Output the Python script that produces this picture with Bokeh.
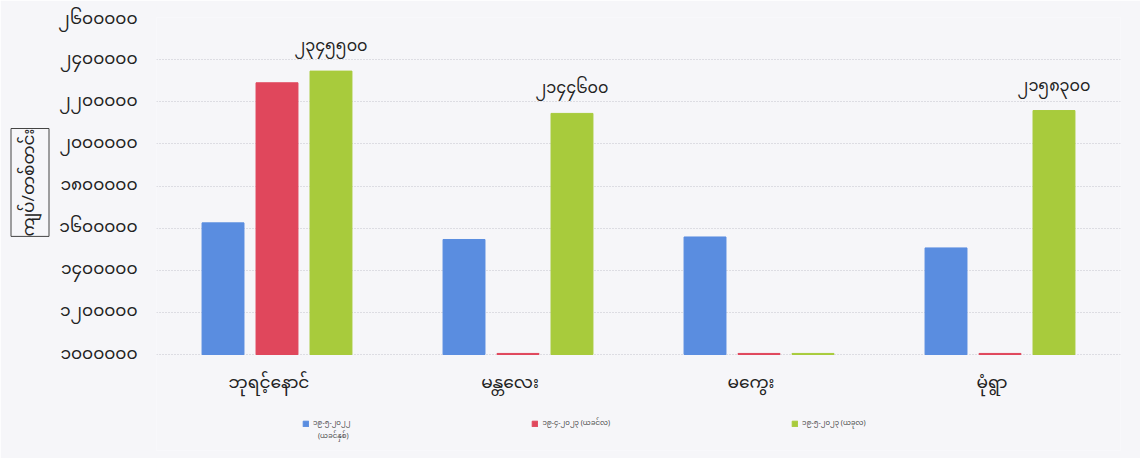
from bokeh.plotting import figure
from bokeh.models import (FactorRange, ColumnDataSource, FixedTicker, Legend, LegendItem,
                          LabelSet, Title)
from bokeh.transform import dodge
from bokeh.core.properties import value
from bokeh.embed import file_html
from bokeh.resources import INLINE

# ---- data ----
categories = ["ဘုရင့်နောင်", "မန္တလေး", "မကွေး", "မုံရွာ"]
series_names = ["၁၉-၅-၂၀၂၂", "၁၉-၄-၂၀၂၃ (ယခင်လ)", "၁၉-၅-၂၀၂၃ (ယခုလ)"]
series1_note = ["(ယခင်နှစ်)"]
prev_year = [1625000, 1546000, 1558000, 1506000]
prev_month = [2290000, 1005000, 1005000, 1005000]
this_month = [2345500, 2144600, 1005000, 2158300]
green_labels = ["၂၃၄၅၅၀၀", "၂၁၄၄၆၀၀", "", "၂၁၅၈၃၀၀"]
y_ticks = [1000000, 1200000, 1400000, 1600000, 1800000, 2000000, 2200000, 2400000, 2600000]
y_tick_labels = ["၁၀၀၀၀၀၀", "၁၂၀၀၀၀၀", "၁၄၀၀၀၀၀", "၁၆၀၀၀၀၀", "၁၈၀၀၀၀၀",
                 "၂၀၀၀၀၀၀", "၂၂၀၀၀၀၀", "၂၄၀၀၀၀၀", "၂၆၀၀၀၀၀"]
y_title = "ကျပ်/တစ်တင်း"
y_min, y_max = 1000000, 2600000

colors = ["#5a8de0", "#e0475c", "#a8cb3c"]
FONT = "Noto Sans Myanmar, Padauk, Myanmar Text, Noto Sans"
BG = "#f6f6f9"

# layout: frame from y=17 to y=450; value axis occupies 17..354 px
top_px, base_px, bottom_px = 17, 354, 450
range_start = y_min - (bottom_px - base_px) * (y_max - y_min) / (base_px - top_px)

source = ColumnDataSource(dict(cat=categories, a=prev_year, b=prev_month, c=this_month,
                               lab=green_labels))

p = figure(x_range=FactorRange(*categories), y_range=(range_start, y_max),
           width=1140, height=458, output_backend="svg", toolbar_location=None,
           min_border_left=156, min_border_right=20, min_border_top=top_px,
           min_border_bottom=458 - bottom_px)
p.background_fill_color = BG
p.border_fill_color = BG
p.outline_line_color = None

w = 0.174
r1 = p.vbar(x=dodge("cat", -0.224, range=p.x_range), bottom=y_min, top="a", width=w,
            color=colors[0], source=source)
r2 = p.vbar(x=dodge("cat", 0.0, range=p.x_range), bottom=y_min, top="b", width=w,
            color=colors[1], source=source)
r3 = p.vbar(x=dodge("cat", 0.224, range=p.x_range), bottom=y_min, top="c", width=w,
            color=colors[2], source=source)

labels = LabelSet(x=dodge("cat", 0.224, range=p.x_range), y="c", text="lab", source=source,
                  text_align="center", text_baseline="bottom", y_offset=6,
                  text_font=value(FONT), text_font_size="16px", text_color="#222222")
p.add_layout(labels)

# category labels under the bars
cat_labels = LabelSet(x="cat", y=y_min, text="cat", source=source, text_align="center",
                      text_baseline="middle", y_offset=-29, x_offset=-8,
                      text_font=value(FONT), text_font_size="17px", text_color="#222222")
p.add_layout(cat_labels)
p.xaxis.visible = False

# y axis
p.yaxis.ticker = FixedTicker(ticks=y_ticks)
p.yaxis.major_label_overrides = {t: l for t, l in zip(y_ticks, y_tick_labels)}
p.yaxis.axis_line_color = None
p.yaxis.major_tick_line_color = None
p.yaxis.minor_tick_line_color = None
p.yaxis.major_tick_out = 0
p.yaxis.major_tick_in = 0
p.yaxis.major_label_standoff = 19
p.yaxis.major_label_text_font = FONT
p.yaxis.major_label_text_font_size = "17px"
p.yaxis.major_label_text_color = "#222222"

p.xgrid.grid_line_color = None
p.ygrid.ticker = FixedTicker(ticks=y_ticks)
p.ygrid.grid_line_color = "#c4c4cc"
p.ygrid.grid_line_dash = "1 2"
p.ygrid.grid_line_width = 1

# y title in a box
p.add_layout(Title(text=y_title, align="right", offset=111, vertical_align="bottom",
                   text_font=FONT, text_font_size="17px",
                   text_font_style="normal", text_color="#222222",
                   border_line_color="#444444", border_line_width=1, padding=0,
                   standoff=13), "left")

# legend inside the frame, below the baseline
lg = Legend(items=[LegendItem(label=n, renderers=[r]) for n, r in zip(series_names, [r1, r2, r3])],
            location=(146, 19), orientation="horizontal", glyph_width=7, glyph_height=7,
            label_standoff=4, label_text_font=FONT, label_text_font_size="7px",
            label_text_color="#444444", padding=0, margin=0, border_line_color=None,
            background_fill_alpha=0, label_height=7, spacing=181)
p.add_layout(lg, "center")

# second line of the first legend entry
note_src = ColumnDataSource(dict(cat=categories[:1], y=[y_min], t=series1_note))
p.add_layout(LabelSet(x="cat", y="y", text="t", source=note_src, text_align="left",
                      text_baseline="middle", x_offset=41, y_offset=-82,
                      text_font=value(FONT), text_font_size="7px", text_color="#444444"))

open("out.html", "w").write(file_html(p, INLINE))
